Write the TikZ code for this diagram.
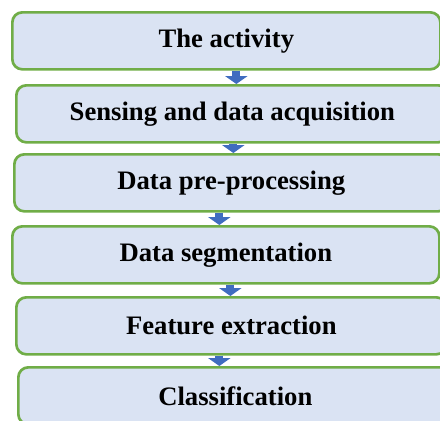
\documentclass[tikz,border=0pt]{standalone}
\usepackage{fontspec}
\setmainfont{Liberation Serif}
\usetikzlibrary{arrows.meta,positioning}
\definecolor{StepGreen}{RGB}{112,173,71}
\definecolor{StepBlue}{RGB}{218,227,243}
\definecolor{FlowBlue}{RGB}{64,108,192}
\tikzset{
  stepbox/.style={draw=StepGreen, fill=StepBlue, line width=2pt,
    rounded corners=7.5pt, anchor=north west, inner sep=0pt,
    minimum height=42.75pt, align=center,
    font=\bfseries\fontsize{20}{24}\selectfont},
  flow/.style={-{Triangle[width=17pt,length=6pt,line width=0pt]},
    line width=6pt, FlowBlue}
}
\begin{document}
\begin{tikzpicture}[x=0.75pt,y=-0.75pt]
  \useasboundingbox (0,0) rectangle (440,421);
  \clip (0,0) rectangle (440,421);
  \node[stepbox,minimum width=321pt] (act) at (11,11) {The activity};
  \node[stepbox,minimum width=324pt] (sense) at (15,84) {Sensing and data acquisition};
  \node[stepbox,minimum width=325.5pt] (prep) at (13,153) {Data pre-processing};
  \node[stepbox,minimum width=320.25pt] (seg) at (11,225) {Data segmentation};
  \node[stepbox,minimum width=322.5pt] (feat) at (15,296) {Feature extraction};
  \node[stepbox,minimum width=325.5pt] (cls) at (17,366) {Classification};
  \draw[flow] ([xshift=7.5pt]act.south) -- ([xshift=7.5pt]act.south |- sense.north);
  \draw[flow] ([xshift=0.75pt]sense.south) -- ([xshift=0.75pt]sense.south |- prep.north);
  \draw[flow] ([xshift=-9pt]prep.south) -- ([xshift=-9pt]prep.south |- seg.north);
  \draw[flow] ([xshift=3.4pt]seg.south) -- ([xshift=3.4pt]seg.south |- feat.north);
  \draw[flow] ([xshift=-9pt]feat.south) -- ([xshift=-9pt]feat.south |- cls.north);
\end{tikzpicture}
\end{document}
